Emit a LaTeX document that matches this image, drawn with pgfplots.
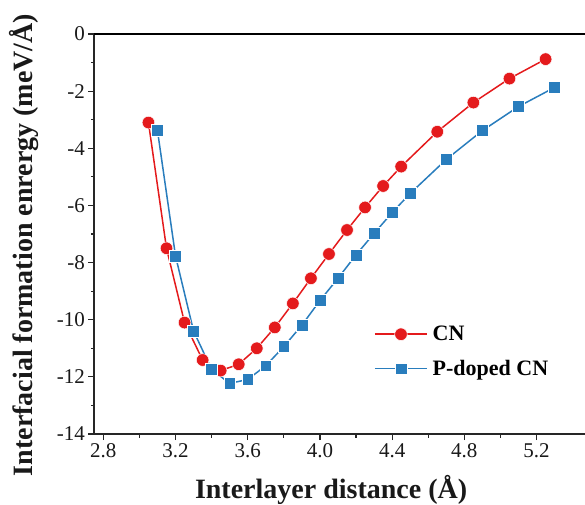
\documentclass[border=0pt]{standalone}
\usepackage{pgfplots}
\pgfplotsset{compat=1.18}
\usepackage{fontspec}
\setmainfont{Liberation Serif}

\definecolor{cnred}{RGB}{228,26,28}
\definecolor{pblue}{RGB}{41,125,189}

\begin{document}
\begin{tikzpicture}
\begin{axis}[
  scale only axis,
  width=496.4pt, height=400pt,
  xmin=2.75, xmax=5.5,
  ymin=-14, ymax=0,
  axis lines=box,
  axis line style={line width=1.8pt, black!85},
  tick style={line width=1.2pt, black!85},
  tick align=outside,
  xtick pos=left, ytick pos=left,
  major tick length=6pt, minor tick length=3.5pt,
  xtick={2.8,3.2,...,5.3},
  ytick={-14,-12,...,0},
  minor x tick num=1, minor y tick num=1,
  xticklabel style={/pgf/number format/.cd, fixed, fixed zerofill, precision=1},
  /pgf/number format/assume math mode=true,
  tick label style={font=\rmfamily\fontsize{21}{21}\selectfont, text=black!90},
  xlabel={Interlayer distance (Å)},
  ylabel={Interfacial formation enrergy (meV/Å)},
  label style={font=\fontsize{28}{28}\selectfont\bfseries, text=black!90},
  xlabel style={at={(axis description cs:0.477,-0.16)}, anchor=base},
  ylabel style={at={(axis description cs:-0.1235,0.4725)}, anchor=base},
  legend cell align=left,
  legend style={draw=none, fill=none, font=\fontsize{22}{22}\selectfont\bfseries,
    at={(axis description cs:0.5635,0.275)}, anchor=north west,
    row sep=14pt, inner sep=0pt, nodes={inner xsep=5pt}},
  legend image code/.code={\draw[mark repeat=2, mark phase=2]
    plot coordinates {(0pt,0pt) (26pt,0pt) (52pt,0pt)};},
]
% pristine carbon nitride
\addplot[cnred, line width=1.5pt, mark=*, mark size=6.3pt,
  mark options={fill=cnred, draw=white, line width=0.5pt}]
  coordinates {
  (3.05,-3.10) (3.15,-7.50) (3.25,-10.10) (3.35,-11.41) (3.45,-11.78)
  (3.55,-11.56) (3.65,-11.00) (3.75,-10.27) (3.85,-9.43) (3.95,-8.55)
  (4.05,-7.70) (4.15,-6.86) (4.25,-6.07) (4.35,-5.32) (4.45,-4.64)
  (4.65,-3.42) (4.85,-2.40) (5.05,-1.56) (5.25,-0.88)
};
\addlegendentry{CN}
% phosphorus-doped carbon nitride
\addplot[pblue, line width=1.5pt, mark=square*, mark size=5.9pt,
  mark options={fill=pblue, draw=white, line width=0.5pt}]
  coordinates {
  (3.10,-3.38) (3.20,-7.77) (3.30,-10.40) (3.40,-11.74) (3.50,-12.23)
  (3.60,-12.09) (3.70,-11.61) (3.80,-10.94) (3.90,-10.19) (4.00,-9.33)
  (4.10,-8.55) (4.20,-7.73) (4.30,-6.98) (4.40,-6.25) (4.50,-5.58)
  (4.70,-4.39) (4.90,-3.38) (5.10,-2.54) (5.30,-1.87)
};
\addlegendentry{P-doped CN}
\end{axis}
% blank strip under the top edge, then the top frame line
\draw[line width=4pt, white] ([xshift=3pt,yshift=-10pt]current axis.north west) -- ([yshift=-10pt]current axis.north east);
\draw[line width=1.8pt, black] (current axis.north west) -- (current axis.north east);
\pgfresetboundingbox
\path[use as bounding box] ([xshift=-94.3pt,yshift=-70pt]current axis.south west)
  rectangle ([xshift=490.7pt,yshift=434pt]current axis.south west);
\end{tikzpicture}
\end{document}
